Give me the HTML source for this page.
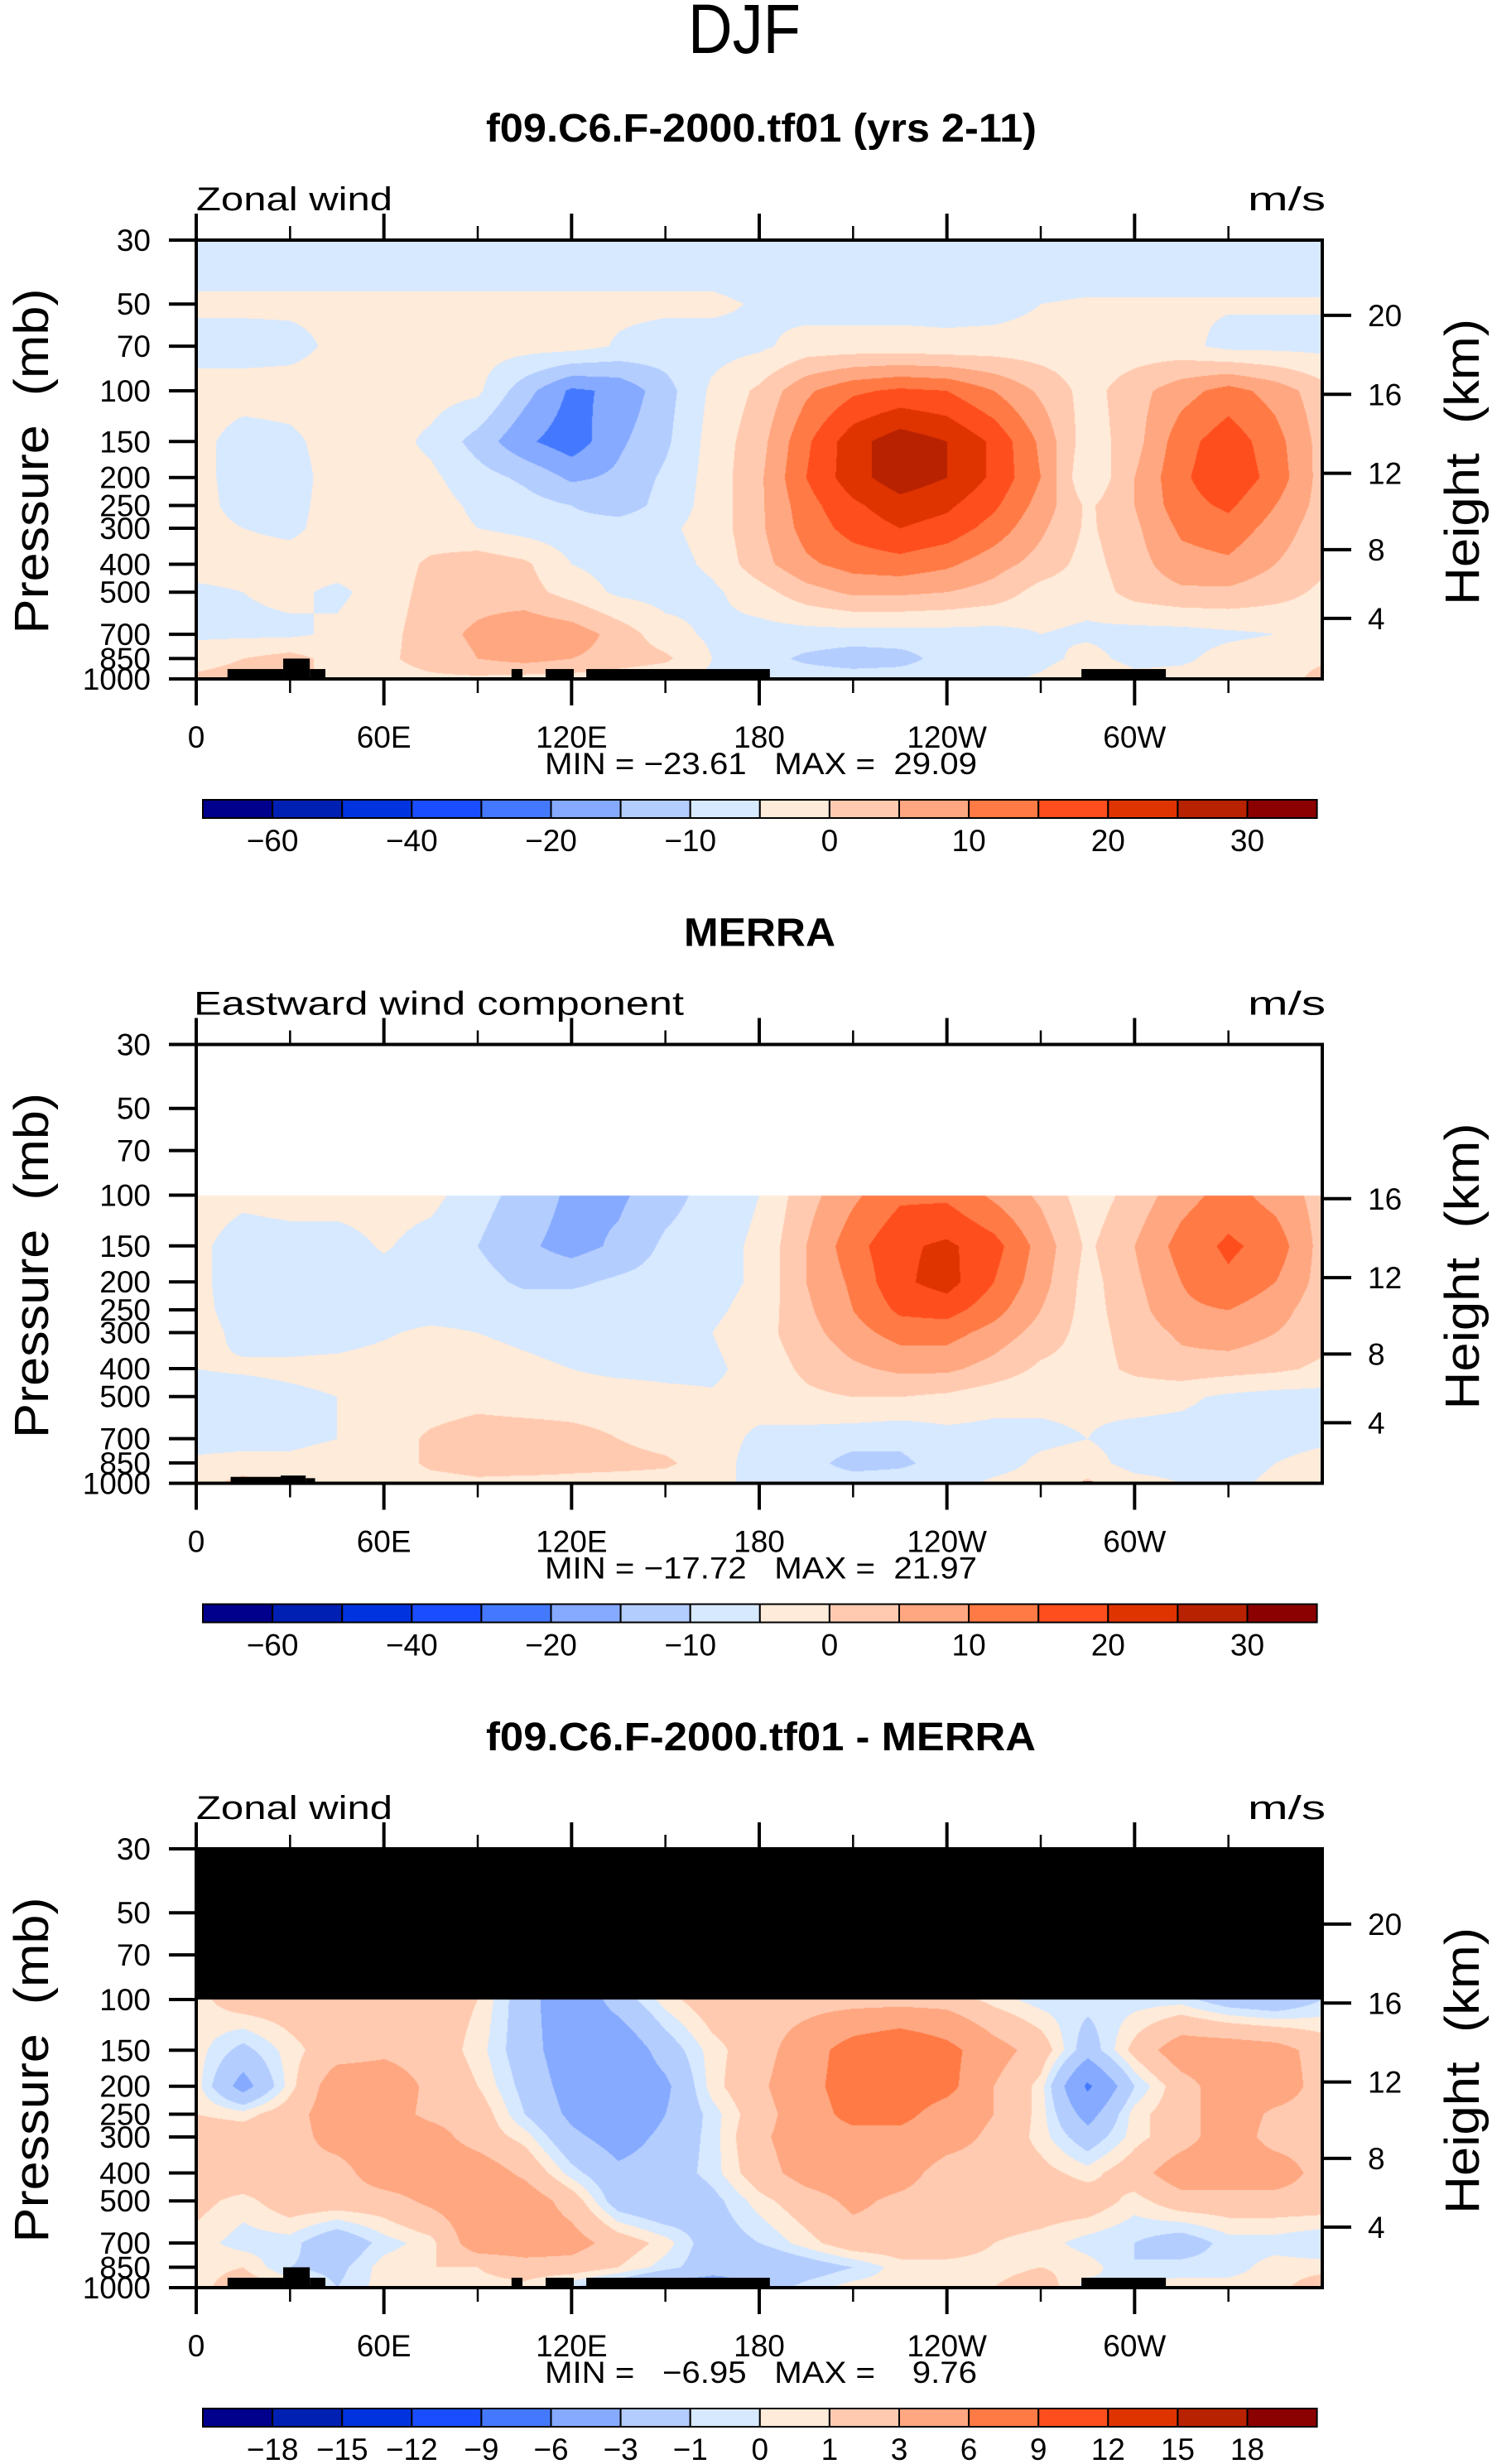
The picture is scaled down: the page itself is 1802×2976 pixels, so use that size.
<!DOCTYPE html>
<html><head><meta charset="utf-8">
<style>
html,body{margin:0;padding:0;background:#fff;}
#wrap{position:relative;width:1802px;height:2976px;overflow:hidden;background:#fff;}
canvas{position:absolute;}
svg{position:absolute;left:0;top:0;}
text{font-family:"Liberation Sans",sans-serif;fill:#000;white-space:pre;}
</style></head>
<body>
<div id="wrap">
<canvas id="c0" width="1360" height="530" style="left:237px;top:290px"></canvas>
<canvas id="c1" width="1360" height="530" style="left:237px;top:1261.5px"></canvas>
<canvas id="c2" width="1360" height="530" style="left:237px;top:2233px"></canvas>
<svg id="svg" width="1802" height="2976" xmlns="http://www.w3.org/2000/svg"></svg>
</div>
<script>
const lons = [0,15,30,45,60,75,90,105,120,135,150,165,180,195,210,225,240,255,270,285,300,315,330,345,360];
const levels = [30,50,70,100,150,200,250,300,400,500,700,850,1000];
const uLevels = [-60,-50,-40,-30,-20,-15,-10,-5,0,5,10,15,20,25,30];
const uLabels = ["−60","","−40","","−20","","−10","","0","","10","","20","","30"];
const dLevels = [-18,-15,-12,-9,-6,-3,-1,0,1,3,6,9,12,15,18];
const dLabels = ["−18","−15","−12","−9","−6","−3","−1","0","1","3","6","9","12","15","18"];
const palette = ["#00008c","#0020b4","#0033e0","#1a4dff","#4479ff","#85aaff","#b4cdff","#d7e9ff","#ffebd9","#ffcab0","#ffa780","#ff7a45","#ff4e1e","#e03400","#b82200","#8b0000"];
const modelU = [
[-9,-9,-9,-9,-9,-9,-9,-9,-9,-9,-9,-9,-9,-9,-9,-9,-9,-9,-9,-9,-9,-9,-9,-9,-9],
[-4,-4,-4,-4,-4,-4,-4,-4,-4,-4,-4,-4,-5.5,-7,-7,-7,-7,-7,-5,-4.5,-4.5,-4.5,-4.5,-4.5,-4.5],
[-7,-7,-6.5,-4,-3,-3,-3,-3,-3,-5.5,-7,-7,-6,-3,-3,-3,-3.5,-3,-3,-3,-3,-3.5,-6.5,-6.5,-6.5],
[-3,-3,-3,-3,-3,-3,-4,-13,-21,-19,-12,-4,1,9,14,16,15,10,4,-2,3,8,12,8,2],
[-3.5,-7,-6,-3,-3,-6,-12,-19,-23,-16,-11,-3,3,14,23,28,25,19,9,-3,3,13,18,12,3],
[-3.5,-7,-7,-3,-3,-4,-8,-11,-16,-14,-9,-3,4,15,23,28,25,19,10,-5,5,14,19,13,3],
[-3,-7,-6.5,-3,-3,-3,-6,-8,-10,-13,-8,-3,4,13,19,23,21,16,8,-1,5,13,16,10,3],
[-3,-5,-6,-3,-3,-3,-5,-7,-8,-7,-6,-3,4,12,17,20,18,13,6,-1,4,11,13,8,2],
[-3,-3,-3,-3,-3,1,3,1,-5,-7,-7,-4,3,9,12,13,11,7,3,-2,3,8,9,5,1],
[-6,-5,-4,-6,-3,2,3,2,-2,-6,-7,-6,-2,3,6,6,5,3,-2,-3,2,4,4,2,-1],
[-6,-6,-6,-4,-2,3,6,9,8,3,-3,-6,-7,-7,-7,-7,-7,-7,-5,-6,-7,-7,-6,-5,-3],
[-2,0,2,-2,-1,2,5,7,5,3,1,-5,-8,-11,-13,-12,-8,-7,-7,-3,-7,-6,-3,-2,-1],
[1,2,2,-2,-2,-1,-1,-2,-2,-3,-4,-6,-7,-7,-7,-7,-7,-7,-4,1,-3,-3,-4,-3,2]];
const merraU = [
[null,null,null,null,null,null,null,null,null,null,null,null,null,null,null,null,null,null,null,null,null,null,null,null,null],
[null,null,null,null,null,null,null,null,null,null,null,null,null,null,null,null,null,null,null,null,null,null,null,null,null],
[null,null,null,null,null,null,null,null,null,null,null,null,null,null,null,null,null,null,null,null,null,null,null,null,null],
[-3,-4,-3,-3,-3,-3.5,-8,-12,-16,-16,-12,-8,-5,3,9,14,14,9,4,-3,2,8,12,8,3],
[-4,-7,-7,-7,-4.5,-7,-10,-14,-17,-14,-9,-7,-4,5,13,19,21,17,8,-1,5,12,16,13,3],
[-4,-7,-7,-7,-7,-7,-8,-11,-11,-9,-8,-7,-4,5,11,19,22,15,7,-2,4,10,14,10,3],
[-4,-6.5,-7,-7,-7,-7,-7,-7,-7,-7,-7,-6,-3,4,10,16,17,12,5,-2,3,9,10,7,2],
[-3.5,-6,-7,-7,-5.5,-4,-5,-6,-7,-7,-6,-5,-2,3,8,12,12,8,3,-2,2,6,8,5,2],
[-5,-4.5,-4,-3.5,-3,-3,-3,-4,-5,-6,-6,-6,-3,1,4,6,6,3,-1,-2,1,3,2,1,-1],
[-7,-7,-6,-5,-3,-3,-2,-3,-3,-3,-4,-4.5,-3,-1,0,0,-1,-3,-4,-4,-3,-4,-6,-7,-7],
[-7,-7,-6,-5,-3,1,3,3,2,0,-2,-3,-6,-7,-8,-9,-7,-7,-6,-5,-7,-7,-7,-7,-6],
[-4,-3,-4,-3,-3,1,2,3,2,2,1,-3,-7,-8,-12,-11,-8,-7,-4,-3,-7,-7,-7,-5,-3],
[-2,2,-2,-4,-3,-2,-1,-2,-2,-3,-3,-4,-6,-7,-7,-7,-7,-4,-3,1,-3,-5,-6,-4,-2]];
const diffU = [
[null,null,null,null,null,null,null,null,null,null,null,null,null,null,null,null,null,null,null,null,null,null,null,null,null],
[null,null,null,null,null,null,null,null,null,null,null,null,null,null,null,null,null,null,null,null,null,null,null,null,null],
[null,null,null,null,null,null,null,null,null,null,null,null,null,null,null,null,null,null,null,null,null,null,null,null,null],
[0.5,2,2,2,2,2,1,-2,-5,-2,0.5,2,2,2,2,2,2,0.5,-0.5,-0.5,-0.5,-0.5,-2,-2.5,-1],
[0.5,-1.5,0.5,2,2.5,2,0.5,-2,-4.5,-5,-2,0.5,2,4.5,7.5,9,7,4,2,-2,1.5,4.5,4.5,4,2],
[0.5,-4,0.5,4.5,4.5,2.5,1,-1.5,-4,-5,-3.5,0.5,2.5,5,7.5,8,7,3,0.5,-6.5,-1,2,4.5,4.5,2],
[1,0.5,2,4.5,4,2.5,2,-1,-3.5,-5,-3,-0.5,2,4.5,7,7,4.5,3,0.5,-4,0.5,2,4.5,2.5,2],
[2,2,2,4,4.5,4,2,0.5,-2.5,-4,-2.5,-0.5,2.5,4.5,5,5,4,2.5,0.5,-2,0.5,2,4.5,2,2],
[2,2.5,2.5,2,4.5,4.5,4.5,2.5,-0.5,-2.5,-2,-0.5,2,4,4.5,4,2,2,1.5,0.5,2,4.5,4.5,4.5,2],
[1.5,0.5,2,2,2,3.5,4.5,4.5,2,-2,-3,-1.5,0.5,2,3.5,2.5,2,2,2,2,0.5,2,2,2,2],
[0.5,-0.5,-0.5,-2.5,-0.5,0.5,4.5,4.5,4,2,0.5,-2,-1,0.5,2,2,2,1,0.5,-0.5,-1,-2,-0.5,-0.5,-1],
[0.5,1,-1,-1.5,0.5,1,1,2,2,1,-0.5,-2,-3,-2,-1,0.5,0.5,0.5,1,0.5,-1,-0.5,-0.5,0.5,0.5],
[0.5,2,1,-1,0.5,0.5,0.5,0.5,-1,-2.5,-4.5,-4.5,-2,-0.5,0.5,0.5,0.5,1,2,-0.5,0.5,0.5,0.5,0.5,2]];
// topography blocks: [lonStart, lonEnd, topPressure]
const topoModel = [[10,27.8,924],[27.8,36.3,850],[36.3,41.3,924],[100.8,104.3,924],[111.7,120.7,924],[124.7,183.4,924],[283,310,924]];
const topoMerra = [[11,27,950],[27,35,940],[35,38,960],[283.5,286.5,985]];
const xTickLons = [0,60,120,180,240,300];
const xTickLabels = ["0","60E","120E","180","120W","60W"];
const xMinorLons = [30,90,150,210,270,330];
const pTicks = [30,50,70,100,150,200,250,300,400,500,700,850,1000];
const zTicksFull = [20,16,12,8,4];
const zTicksMerra = [16,12,8,4];

const PX0=237, PW=1360, PH=530, TOPS=[290,1261.5,2233];
const LNR=Math.log(1000/30);
function yOfP(top,p){return top+PH*Math.log(p/30)/LNR;}
function xOfLon(l){return PX0+PW*l/360;}
function pOfZ(z){return z<=11?1013.25*Math.pow(1-z/44.33,5.256):226.32*Math.exp(-(z-11)/6.3416);}
function hexRGB(h){return [parseInt(h.substr(1,2),16),parseInt(h.substr(3,2),16),parseInt(h.substr(5,2),16)];}
const palRGB = palette.map(hexRGB);

function drawField(cid, data, lev, missRGB){
  const c=document.getElementById(cid), ctx=c.getContext('2d');
  const img=ctx.createImageData(PW,PH); const d=img.data;
  const lnL=levels.map(Math.log);
  for(let y=0;y<PH;y++){
    const lp=Math.log(30)+LNR*(y+0.5)/PH;
    let i=0; while(i<levels.length-2 && lp>lnL[i+1]) i++;
    const t=Math.min(1,Math.max(0,(lp-lnL[i])/(lnL[i+1]-lnL[i])));
    for(let x=0;x<PW;x++){
      const lon=360*(x+0.5)/PW;
      let j=Math.min(lons.length-2,Math.floor(lon/15));
      const s=(lon-lons[j])/15;
      const a=data[i][j],b=data[i][j+1],cc=data[i+1][j],dd=data[i+1][j+1];
      let rgb;
      if(a===null||b===null||cc===null||dd===null){rgb=missRGB;}
      else{
        const v=(a*(1-s)+b*s)*(1-t)+(cc*(1-s)+dd*s)*t;
        let k=0; while(k<lev.length && v>=lev[k]) k++;
        rgb=palRGB[k];
      }
      const o=(y*PW+x)*4; d[o]=rgb[0];d[o+1]=rgb[1];d[o+2]=rgb[2];d[o+3]=255;
    }
  }
  ctx.putImageData(img,0,0);
}
drawField('c0',modelU,uLevels,[255,255,255]);
drawField('c1',merraU,uLevels,[255,255,255]);
drawField('c2',diffU,dLevels,[0,0,0]);

const svg=document.getElementById('svg');
const NS='http://www.w3.org/2000/svg';
function mk(tag,attrs,parent){const e=document.createElementNS(NS,tag);for(const k in attrs)e.setAttribute(k,attrs[k]);(parent||svg).appendChild(e);return e;}

let e;
e=mk('text',{x:899,y:64,'font-size':84,'text-anchor':'middle',textLength:136,lengthAdjust:'spacingAndGlyphs'});
e.textContent='DJF';



const titles=[['f09.C6.F-2000.tf01 (yrs 2-11)',587,665],['MERRA',826,183],['f09.C6.F-2000.tf01 - MERRA',587,664]];
const leftTitles=[['Zonal wind',237],['Eastward wind component',234,592],['Zonal wind',237]];
const minmax=['MIN = −23.61   MAX =  29.09','MIN = −17.72   MAX =  21.97','MIN =   −6.95   MAX =    9.76'];

for(let k=0;k<3;k++){
  const top=TOPS[k], bot=top+PH;
  const g=mk('g',{});
  
  
  e=mk('text',{x:titles[k][1],y:top-119,'font-size':48,'font-weight':'bold',textLength:titles[k][2],lengthAdjust:'spacingAndGlyphs'},g);
  e.textContent=titles[k][0];
  
  
  const lt=leftTitles[k];
  e=mk('text',{x:lt[1],y:top-36,'font-size':40,textLength:(k===1?592:237),lengthAdjust:'spacingAndGlyphs'},g);
  e.textContent=lt[0];
  
  
  e=mk('text',{x:1507,y:top-36,'font-size':40,textLength:94,lengthAdjust:'spacingAndGlyphs'},g);
  e.textContent='m/s';
  
  
  const topo = k===1?topoMerra:topoModel;
  topo.forEach(b=>{
    const r=mk('rect',{x:xOfLon(b[0]),y:yOfP(top,b[2]),width:xOfLon(b[1])-xOfLon(b[0]),height:bot-yOfP(top,b[2]),fill:'#000'},g);
    
    
  });
  e=mk('rect',{x:PX0,y:top,width:PW,height:PH,fill:'none',stroke:'#000','stroke-width':4},g);
  
  
  xTickLons.forEach((l,i)=>{
    const x=xOfLon(l);
    e=mk('line',{x1:x,x2:x,y1:top,y2:top-32,stroke:'#000','stroke-width':4},g);
    
    
    e=mk('line',{x1:x,x2:x,y1:bot,y2:bot+32,stroke:'#000','stroke-width':4},g);
    
    
    e=mk('text',{x:x,y:bot+83,'font-size':37,'text-anchor':'middle'},g);
    e.textContent=xTickLabels[i];
    
    
  });
  xMinorLons.forEach(l=>{
    const x=xOfLon(l);
    e=mk('line',{x1:x,x2:x,y1:top,y2:top-17,stroke:'#000','stroke-width':2.5},g);
    
    
    e=mk('line',{x1:x,x2:x,y1:bot,y2:bot+17,stroke:'#000','stroke-width':2.5},g);
    
    
  });
  pTicks.forEach(p=>{
    const y=yOfP(top,p);
    e=mk('line',{x1:PX0,x2:PX0-33,y1:y,y2:y,stroke:'#000','stroke-width':4},g);
    
    
    e=mk('text',{x:182,y:y+13,'font-size':37,'text-anchor':'end'},g);
    e.textContent=String(p);
    
    
  });
  const zt = k===1?zTicksMerra:zTicksFull;
  zt.forEach(z=>{
    const y=yOfP(top,pOfZ(z));
    e=mk('line',{x1:PX0+PW,x2:PX0+PW+35,y1:y,y2:y,stroke:'#000','stroke-width':4},g);
    
    
    e=mk('text',{x:1652,y:y+13,'font-size':37},g);
    e.textContent=String(z);
    
    
  });
  e=mk('text',{x:0,y:0,'font-size':58,'text-anchor':'middle',textLength:417,lengthAdjust:'spacingAndGlyphs',transform:'translate(58,'+(top+267)+') rotate(-90)'},g);
  e.textContent='Pressure  (mb)';
  
  
  e=mk('text',{x:0,y:0,'font-size':58,'text-anchor':'middle',textLength:346,lengthAdjust:'spacingAndGlyphs',transform:'translate(1786,'+(top+268)+') rotate(-90)'},g);
  e.textContent='Height  (km)';
  
  
  e=mk('text',{x:658,y:bot+115,'font-size':37,textLength:522,lengthAdjust:'spacingAndGlyphs'},g);
  e.textContent=minmax[k];
  
  
  const cbTop=top+676, cbX=245, bw=84.1;
  const labs = k===2?dLabels:uLabels;
  for(let b=0;b<16;b++){
    e=mk('rect',{x:cbX+b*bw,y:cbTop,width:bw,height:22,fill:palette[b],stroke:'#000','stroke-width':2},g);
    
    
  }
  labs.forEach((t,i)=>{
    if(!t) return;
    e=mk('text',{x:cbX+(i+1)*bw,y:cbTop+62,'font-size':37,'text-anchor':'middle'},g);
    e.textContent=t;
    
    
  });
}
</script>
</body></html>
